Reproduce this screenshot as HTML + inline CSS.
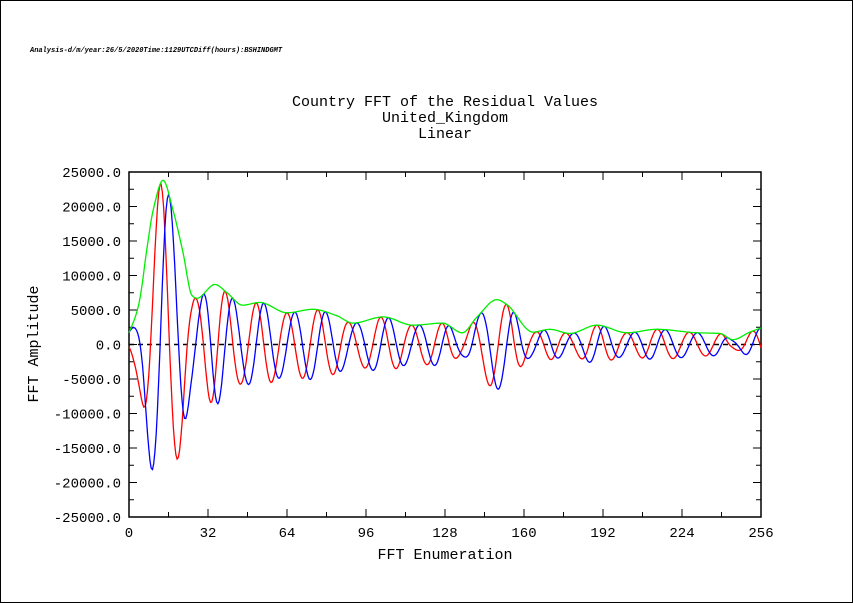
<!DOCTYPE html>
<html><head><meta charset="utf-8"><style>
html,body{margin:0;padding:0;background:#fff}
svg{display:block}
text{font-family:"Liberation Mono",monospace;fill:#000}
</style></head><body>
<svg id="chart" width="853" height="603" viewBox="0 0 853 603" xmlns="http://www.w3.org/2000/svg">
<rect x="0.5" y="0.5" width="852" height="602" fill="#fff" stroke="#000"/>
<text x="30" y="52" font-size="7" font-style="italic" font-weight="bold" font-family="Liberation Serif, serif">Analysis-d/m/year:26/5/2020Time:1129UTCDiff(hours):BSHINDGMT</text>
<text x="445" y="106" font-size="15" text-anchor="middle">Country FFT of the Residual Values</text>
<text x="445" y="122" font-size="15" text-anchor="middle">United_Kingdom</text>
<text x="445" y="138" font-size="15" text-anchor="middle">Linear</text>
<g id="axes"></g>
<g id="series"></g>
<text x="445" y="559" font-size="15" text-anchor="middle">FFT Enumeration</text>
<text x="38" y="344" font-size="15" text-anchor="middle" transform="rotate(-90 38 344)">FFT Amplitude</text>
</svg>
<script>
const xTicks=[0,32,64,96,128,160,192,224,256];
const yTicks=[25000,20000,15000,10000,5000,0,-5000,-10000,-15000,-20000,-25000];
// envelope (green) amplitude knots
const envK=[0,3,4.5,7.3,9.8,13.8,17.8,21.9,25.5,27.5,34.8,39.7,46,53,64,74.5,84,90.7,103,115,127,135,141,149,153,163.6,170.5,178.6,189.5,201.7,213.8,230,239.4,244.6,251.5,256];
const envV=[1700,4500,6800,14000,19500,23800,19500,13300,7100,6700,8700,7500,5700,6100,4600,5100,4200,3100,4000,2800,3100,1700,4000,6500,5800,1800,2200,1600,2800,1700,2200,1700,1600,700,1800,2400];
// phase knots (cycles) at red peaks
const phK=[0,4.5,12.6,27,39,51.5,64,76.5,89,102,114.5,126.8,138.9,153,165,177,189.5,201.7,214,227,240,252.5,256];
const phV=[-0.72,-0.5,0,1,2,3,4,5,6,7,8,9,10,11,12,13,14,15,16,17,18,19,19.28];
const X0=129,X1=761,Y0=172,Y1=517,XMAX=256,YMAX=25000,YMIN=-25000;
const xs=v=>X0+(v/XMAX)*(X1-X0);
const ys=v=>Y0+(YMAX-v)/(YMAX-YMIN)*(Y1-Y0);
function interp(K,V,k){
 const n=K.length;let i=0;while(i<n-2&&k>K[i+1])i++;
 const d=[];for(let j=0;j<n-1;j++)d.push((V[j+1]-V[j])/(K[j+1]-K[j]));
 const m=j=>{if(j===0)return d[0];if(j===n-1)return d[n-2];if(d[j-1]*d[j]<=0)return 0;return 2/(1/d[j-1]+1/d[j]);};
 const h=K[i+1]-K[i],t=Math.max(0,Math.min(1,(k-K[i])/h));
 const t2=t*t,t3=t2*t;
 return (2*t3-3*t2+1)*V[i]+(t3-2*t2+t)*h*m(i)+(-2*t3+3*t2)*V[i+1]+(t3-t2)*h*m(i+1);
}
const NS="http://www.w3.org/2000/svg";
function mk(tag,attrs,parent){const e=document.createElementNS(NS,tag);for(const a in attrs)e.setAttribute(a,attrs[a]);parent.appendChild(e);return e;}
const ax=document.getElementById('axes');
const frame=mk('rect',{x:X0,y:Y0,width:X1-X0,height:Y1-Y0,fill:'none',stroke:'#000','stroke-width':1.5},ax);


for(let v=0;v<=256;v+=16){const major=v%32===0;const L=major?8:5;
 const t1=mk('line',{x1:xs(v),x2:xs(v),y1:Y1,y2:Y1-L,stroke:'#000'},ax);
 
 
 const t2=mk('line',{x1:xs(v),x2:xs(v),y1:Y0,y2:Y0+L,stroke:'#000'},ax);
 
 }
xTicks.forEach(v=>{const t=mk('text',{x:xs(v),y:Y1+20,'font-size':14,'text-anchor':'middle','font-family':'Liberation Sans, sans-serif'},ax);t.textContent=v;
 
 });
for(let v=-25000;v<=25000;v+=2500){const major=v%5000===0;const L=major?8:5;
 const t1=mk('line',{x1:X0,x2:X0+L,y1:ys(v),y2:ys(v),stroke:'#000'},ax);
 
 
 const t2=mk('line',{x1:X1,x2:X1-L,y1:ys(v),y2:ys(v),stroke:'#000'},ax);
 
 }
yTicks.forEach(v=>{const t=mk('text',{x:X0-8,y:ys(v)+5,'font-size':14,'text-anchor':'end','font-family':'Liberation Sans, sans-serif'},ax);t.textContent=v.toFixed(1);
 
 });
const zl=mk('line',{x1:X0,x2:X1,y1:ys(0),y2:ys(0),stroke:'#000','stroke-width':1.5,'stroke-dasharray':'5,4'},ax);


const sg=document.getElementById('series');
let pr='',pb='',pg='';
for(let k=0;k<=256;k+=0.5){const A=interp(envK,envV,k);const th=2*Math.PI*interp(phK,phV,k);
 const c=k===0?'M':'L';
 pr+=c+xs(k).toFixed(1)+','+ys(A*Math.cos(th)).toFixed(1);
 pb+=c+xs(k).toFixed(1)+','+ys(A*Math.sin(th)).toFixed(1);
 pg+=c+xs(k).toFixed(1)+','+ys(A).toFixed(1);}
const r=mk('path',{d:pr,fill:'none',stroke:'#ff0000','stroke-width':1.3},sg);


const b=mk('path',{d:pb,fill:'none',stroke:'#0000ff','stroke-width':1.3},sg);


const g=mk('path',{d:pg,fill:'none',stroke:'#00ee00','stroke-width':1.3},sg);


</script>
</body></html>
